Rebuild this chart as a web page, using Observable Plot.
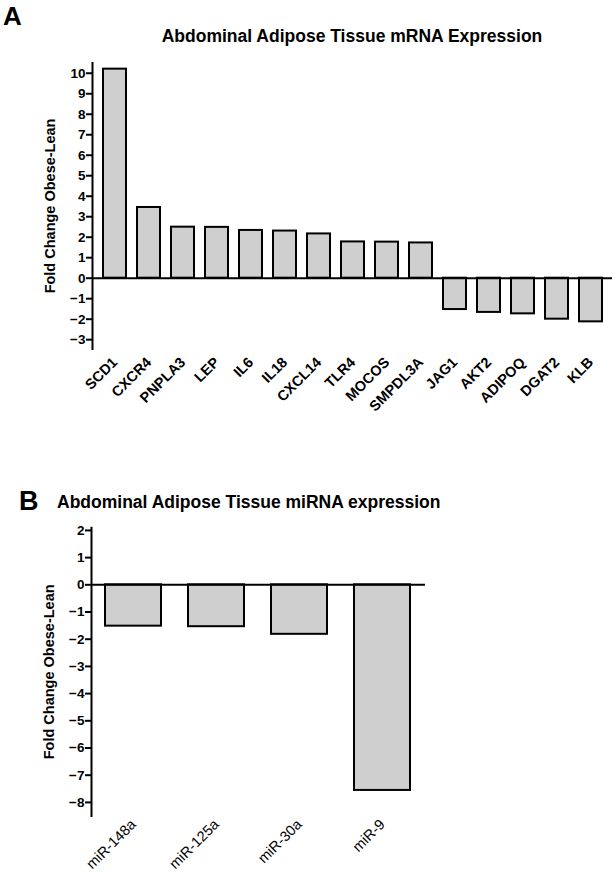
<!DOCTYPE html>
<html><head><meta charset="utf-8">
<script src="https://cdn.jsdelivr.net/npm/d3@7"></script>
<script src="https://cdn.jsdelivr.net/npm/@observablehq/plot@0.6"></script>
<style>
body{margin:0;background:#fff;font-family:"Liberation Sans",Arial,sans-serif;}
#wrap{position:relative;width:614px;height:877px;overflow:hidden;}
.abs{position:absolute;white-space:nowrap;font-weight:bold;color:#000;line-height:1;}
#chartA,#chartB{position:absolute;left:0;}
#chartA{top:0;} #chartB{top:480px;}
</style></head><body>
<div id="wrap">
  <div id="chartA"></div>
  <div id="chartB"></div>
  <div class="abs" style="left:3px;top:3px;font-size:26px;">A</div>
  <div class="abs" id="titleA" style="left:0;width:614px;top:28px;font-size:17.5px;">
    <div style="position:absolute;left:352px;transform:translateX(-50%);">Abdominal Adipose Tissue mRNA Expression</div></div>
  <div class="abs" style="left:19px;top:488px;font-size:27px;">B</div>
  <div class="abs" style="left:57px;top:494px;font-size:17.5px;">Abdominal Adipose Tissue miRNA expression</div>
</div>
<script>
const genes = ["SCD1","CXCR4","PNPLA3","LEP","IL6","IL18","CXCL14","TLR4","MOCOS","SMPDL3A","JAG1","AKT2","ADIPOQ","DGAT2","KLB"];
const geneFold = [10.2, 3.45, 2.49, 2.48, 2.33, 2.30, 2.16, 1.77, 1.76, 1.72, -1.53, -1.67, -1.74, -2.0, -2.13];
const yTicksA = [-3,-2,-1,0,1,2,3,4,5,6,7,8,9,10];

const mirnas = ["miR-148a","miR-125a","miR-30a","miR-9"];
const mirFold = [-1.52, -1.54, -1.82, -7.56];
const yTicksB = [-8,-7,-6,-5,-4,-3,-2,-1,0,1,2];

const yLabel = "Fold Change Obese-Lean";
const FONT = "Liberation Sans, Arial, Helvetica, sans-serif";

const rowsA = genes.map((g,i)=>({gene:g, fold:geneFold[i]}));
const rowsB = mirnas.map((g,i)=>({mir:g, fold:mirFold[i]}));

const chartA = Plot.plot({
  width:614, height:430,
  marginTop:62.5, marginBottom:81.6, marginLeft:92, marginRight:2,
  style:{fontFamily:FONT, fontSize:"13px", color:"#000", background:"transparent", overflow:"visible"},
  x:{domain:genes, paddingInner:0.33, paddingOuter:0.16},
  y:{domain:[-3.45,10.5]},
  marks:[
    Plot.barY(rowsA,{x:"gene",y:"fold",fill:"#cfcfcf",stroke:"#000",strokeWidth:2}),
    Plot.ruleY([0],{stroke:"#000",strokeWidth:2}),
    Plot.frame({anchor:"left",stroke:"#000",strokeWidth:2}),
    Plot.axisY({ticks:yTicksA, tickSize:6, tickPadding:1, strokeWidth:2, fontWeight:"bold", fontSize:13.5, label:null}),
    Plot.axisX({tickRotate:-45, tickSize:0, tickPadding:11, fontSize:14.5, fontWeight:"bold", label:null}),
    Plot.text([yLabel],{frameAnchor:"left", textAnchor:"middle", rotate:-90, dx:-42, fontSize:14.5, fontWeight:"bold", fill:"#000"})
  ]
});
document.getElementById("chartA").append(chartA);

const chartB = Plot.plot({
  width:614, height:397,
  marginTop:47.2, marginBottom:61.5, marginLeft:91, marginRight:189,
  style:{fontFamily:FONT, fontSize:"13px", color:"#000", background:"transparent", overflow:"visible"},
  x:{domain:mirnas, paddingInner:0.32, paddingOuter:0.165},
  y:{domain:[-8.5,2.1]},
  marks:[
    Plot.barY(rowsB,{x:"mir",y:"fold",fill:"#cfcfcf",stroke:"#000",strokeWidth:2}),
    Plot.ruleY([0],{stroke:"#000",strokeWidth:2}),
    Plot.frame({anchor:"left",stroke:"#000",strokeWidth:2}),
    Plot.axisY({ticks:yTicksB, tickSize:6, tickPadding:1, strokeWidth:2, fontWeight:"bold", fontSize:13.5, label:null}),
    Plot.axisX({tickRotate:-45, tickSize:0, tickPadding:6, fontSize:14.5, fill:"#000", label:null}),
    Plot.text([yLabel],{frameAnchor:"left", textAnchor:"middle", rotate:-90, dx:-42, fontSize:14.5, fontWeight:"bold", fill:"#000"})
  ]
});
document.getElementById("chartB").append(chartB);
</script>
</body></html>
